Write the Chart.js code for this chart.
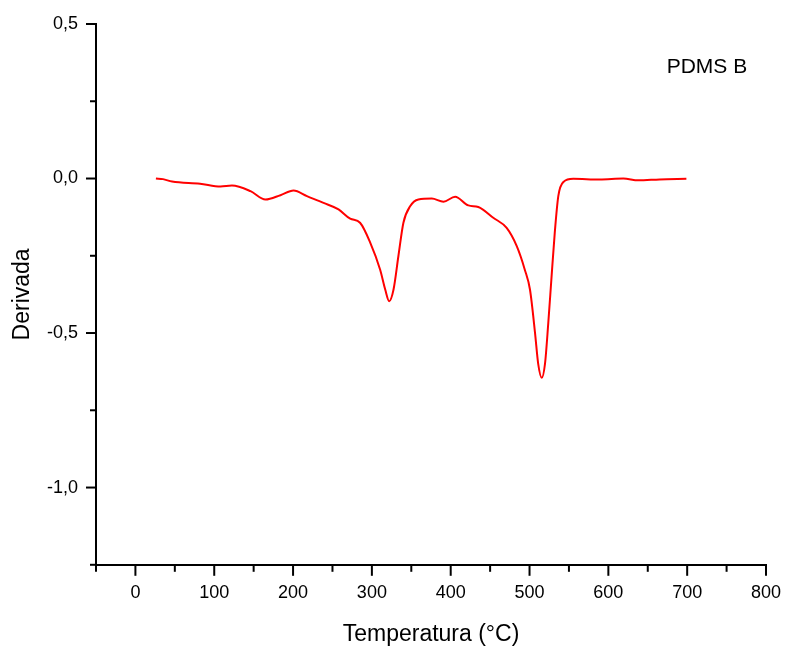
<!DOCTYPE html>
<html>
<head>
<meta charset="utf-8">
<script src="https://cdn.jsdelivr.net/npm/chart.js@4.4.1/dist/chart.umd.min.js"></script>
<style>
  html, body { margin: 0; padding: 0; background: #fff; }
  #wrap { width: 786px; height: 650px; }
</style>
</head>
<body>
<div id="wrap"><canvas id="dtgChart"></canvas></div>
<script>
// DTG curve, PDMS B
const temperatura = [26, 35, 46.5, 82, 108, 122.5, 146, 165, 184, 200.6, 217.6, 238.7, 257.7, 272.5, 285,
  298, 310.5, 317, 322, 327.4, 333.7, 340, 348.5, 359, 376, 390.8, 405.6, 422.4, 435, 454, 471, 483.8,
  494, 500.6, 507, 511, 515.5, 519.6, 523.8, 528, 532, 536.5, 543, 555.5, 589, 619, 638, 665, 699];
const derivada = [0.0, -0.002, -0.01, -0.017, -0.026, -0.023, -0.041, -0.068, -0.054, -0.039, -0.057, -0.079, -0.1, -0.13, -0.143,
  -0.208, -0.295, -0.36, -0.397, -0.36, -0.25, -0.143, -0.09, -0.068, -0.065, -0.075, -0.059, -0.087, -0.092, -0.127, -0.16, -0.219,
  -0.295, -0.36, -0.5, -0.6, -0.645, -0.6, -0.467, -0.316, -0.176, -0.057, -0.011, -0.001, -0.003, 0.0, -0.006, -0.003, -0.001];

const xTicksMajor = [0, 100, 200, 300, 400, 500, 600, 700, 800];
const yTicksMajor = [0.5, 0.0, -0.5, -1.0];
const legendText = "PDMS B";

const FONT = "'Liberation Sans', Arial, sans-serif";

function isMajor(list, v) {
  return list.some((t) => Math.abs(t - v) < 1e-6);
}

// short outward ticks, longer on labelled values
const axisTicks = {
  id: "axisTicks",
  afterDraw(chart) {
    const ctx = chart.ctx;
    const xs = chart.scales.x;
    const ys = chart.scales.y;
    ctx.save();
    ctx.strokeStyle = "#000";
    ctx.lineWidth = 2;
    xs.ticks.forEach((t) => {
      const px = xs.getPixelForValue(t.value);
      const len = isMajor(xTicksMajor, t.value) ? 11 : 7;
      ctx.beginPath();
      ctx.moveTo(px, xs.top);
      ctx.lineTo(px, xs.top + len);
      ctx.stroke();
    });
    ys.ticks.forEach((t) => {
      const py = ys.getPixelForValue(t.value);
      const len = isMajor(yTicksMajor, t.value) ? 10 : 6;
      ctx.beginPath();
      ctx.moveTo(ys.right, py);
      ctx.lineTo(ys.right - len, py);
      ctx.stroke();
    });
    // sample label
    ctx.fillStyle = "#000";
    ctx.font = "21px " + FONT;
    ctx.textAlign = "center";
    ctx.textBaseline = "middle";
    ctx.fillText(legendText, xs.getPixelForValue(725), ys.getPixelForValue(0.36));
    ctx.restore();
  },
};

const ctx = document.getElementById("dtgChart").getContext("2d");
new Chart(ctx, {
  type: "line",
  data: {
    datasets: [
      {
        label: legendText,
        data: temperatura.map((t, i) => ({ x: t, y: derivada[i] })),
        borderColor: "#ff0000",
        borderWidth: 2,
        pointRadius: 0,
        fill: false,
        cubicInterpolationMode: "monotone",
      },
    ],
  },
  options: {
    responsive: true,
    maintainAspectRatio: false,
    animation: false,
    layout: { padding: { top: 24, right: 20, left: 9, bottom: 2 } },
    plugins: {
      legend: { display: false },
      tooltip: { enabled: false },
    },
    scales: {
      x: {
        type: "linear",
        min: -50,
        max: 800,
        afterFit: (s) => {
          s.paddingLeft = 0;
          s.paddingRight = 0;
        },
        grid: { drawOnChartArea: false, drawTicks: false },
        border: { display: true, color: "#000", width: 2 },
        ticks: {
          stepSize: 50,
          padding: 17,
          color: "#000",
          font: { family: FONT, size: 18 },
          maxRotation: 0,
          autoSkip: false,
          callback: (v) => (isMajor(xTicksMajor, v) ? String(v) : ""),
        },
        title: {
          display: true,
          text: "Temperatura (°C)",
          color: "#000",
          font: { family: FONT, size: 23 },
          padding: { top: 0, bottom: 0 },
        },
      },
      y: {
        min: -1.25,
        max: 0.5,
        afterFit: (s) => {
          s.width = 87;
          s.paddingTop = 0;
          s.paddingBottom = 0;
        },
        grid: { drawOnChartArea: false, drawTicks: false },
        border: { display: true, color: "#000", width: 2 },
        ticks: {
          stepSize: 0.25,
          padding: 18,
          color: "#000",
          font: { family: FONT, size: 18 },
          autoSkip: false,
          callback: (v) => (isMajor(yTicksMajor, v) ? v.toFixed(1).replace(".", ",") : ""),
        },
        title: {
          display: true,
          text: "Derivada",
          color: "#000",
          font: { family: FONT, size: 23 },
          padding: { top: 0, bottom: 0 },
        },
      },
    },
  },
  plugins: [axisTicks],
});
</script>
</body>
</html>
